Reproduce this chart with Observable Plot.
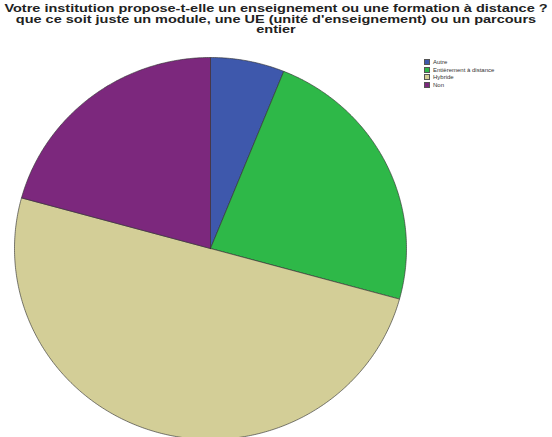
<!DOCTYPE html>
<html>
<head>
<meta charset="utf-8">
<script src="https://cdn.jsdelivr.net/npm/d3@7"></script>
<script src="https://cdn.jsdelivr.net/npm/@observablehq/plot@0.6"></script>
<style>
  html, body { margin: 0; padding: 0; background: #fff; }
  #wrap { position: relative; width: 552px; height: 437px; overflow: hidden; font-family: "Liberation Sans", Arial, sans-serif; }
  #title { position: absolute; left: 0; top: 3px; width: 552px; text-align: center; font-weight: bold; font-size: 10.5px; line-height: 10.5px; color: #222; transform: scaleX(1.38); transform-origin: 276px 0; }
  #chart { position: absolute; left: 0; top: 40px; }
  #legend { position: absolute; left: 424px; top: 58px; font-size: 6px; color: #333; }
  .li { height: 7.8px; display: flex; align-items: center; }
  .sw { width: 6px; height: 6px; margin-right: 3px; border: 0.5px solid #555; box-sizing: border-box; }
</style>
</head>
<body>
<div id="wrap">
  <div id="title">Votre institution propose-t-elle un enseignement ou une formation à distance ?<br>que ce soit juste un module, une UE (unité d'enseignement) ou un parcours<br>entier</div>
  <div id="chart"></div>
  <div id="legend"></div>
</div>
<script>
const categories = ["Autre", "Entièrement à distance", "Hybride", "Non"];
const counts = [5, 19, 41, 17];
const colors = ["#3E58AC", "#2EB848", "#D3CE97", "#7C287D"];

const pie = d3.pie().sort(null).value(d => d.value);
const arcs = pie(categories.map((c, i) => ({cat: c, value: counts[i]})));
const pts = [];
for (const a of arcs) {
  const cat = a.data.cat;
  pts.push({cat, x: 0, y: 0});
  const n = Math.max(2, Math.ceil((a.endAngle - a.startAngle) / 0.01));
  for (let k = 0; k <= n; k++) {
    const t = a.startAngle + (a.endAngle - a.startAngle) * k / n;
    pts.push({cat, x: Math.sin(t), y: Math.cos(t)});
  }
  pts.push({cat, x: 0, y: 0});
}

const cx = 210, cy = 208, rx = 196, ry = 191;
const plot = Plot.plot({
  width: 552,
  height: 397,
  margin: 0,
  x: {domain: [-1, 1], range: [cx - rx, cx + rx], axis: null},
  y: {domain: [-1, 1], range: [cy + ry, cy - ry], axis: null},
  color: {domain: categories, range: colors},
  marks: [
    Plot.line(pts, {x: "x", y: "y", z: "cat", fill: "cat", stroke: "#333", strokeWidth: 0.8, strokeOpacity: 0.8, curve: "linear-closed"})
  ]
});
document.getElementById("chart").appendChild(plot);

const leg = document.getElementById("legend");
categories.forEach((c, i) => {
  const d = document.createElement("div");
  d.className = "li";
  d.innerHTML = `<span class="sw" style="background:${colors[i]}"></span><span>${c}</span>`;
  leg.appendChild(d);
});
</script>
</body>
</html>
